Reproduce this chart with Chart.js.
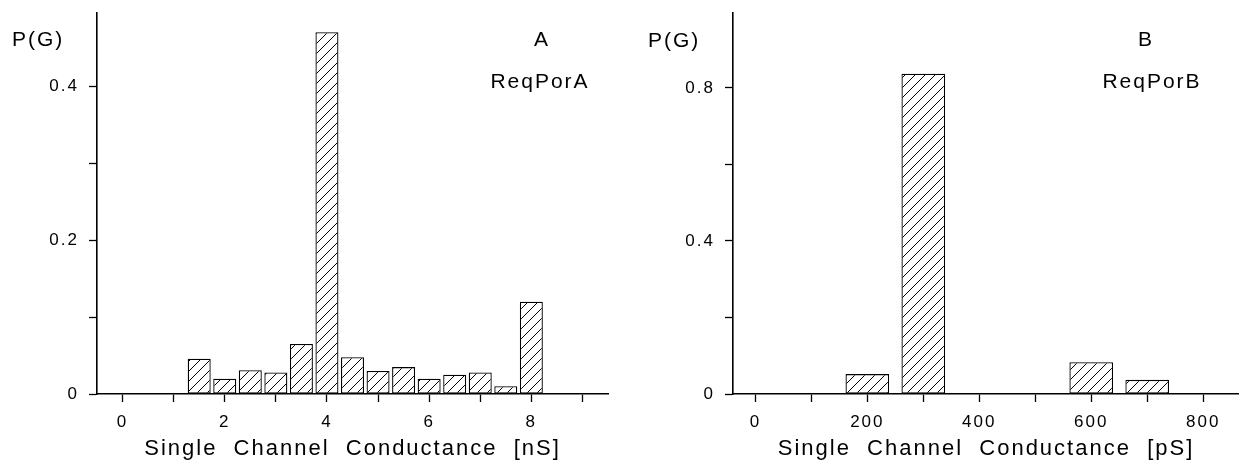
<!DOCTYPE html>
<html>
<head>
<meta charset="utf-8">
<script src="https://cdn.jsdelivr.net/npm/chart.js@4.4.0/dist/chart.umd.min.js"></script>
<style>
    html, body { margin: 0; padding: 0; background: #fff; }
    body { width: 1239px; height: 463px; position: relative; overflow: hidden; }
    .panel { position: absolute; top: 0; height: 463px; }
    #panelA { left: 0; width: 620px; }
    #panelB { left: 620px; width: 619px; }
</style>
</head>
<body>
<div class="panel" id="panelA"><canvas id="chartA"></canvas></div>
<div class="panel" id="panelB"><canvas id="chartB"></canvas></div>
<script>
// panel A - ReqPorA, conductance in nS
const condA = [1.5, 2, 2.5, 3, 3.5, 4, 4.5, 5, 5.5, 6, 6.5, 7, 7.5, 8];
const probA = [0.046, 0.020, 0.031, 0.028, 0.065, 0.471, 0.048, 0.030, 0.035, 0.020, 0.025, 0.028, 0.010, 0.120];
const xTicksA = [0, 1, 2, 3, 4, 5, 6, 7, 8, 9];
const xLabelsA = ["0", "", "2", "", "4", "", "6", "", "8", ""];
const yTicksA = [0, 0.1, 0.2, 0.3, 0.4];
const yLabelsA = ["0", "", "0.2", "", "0.4"];

// panel B - ReqPorB, conductance in pS
const condB = [200, 300, 600, 700];
const probB = [0.052, 0.837, 0.083, 0.037];
const xTicksB = [0, 100, 200, 300, 400, 500, 600, 700, 800];
const xLabelsB = ["0", "", "200", "", "400", "", "600", "", "800"];
const yTicksB = [0, 0.2, 0.4, 0.6, 0.8];
const yLabelsB = ["0", "", "0.4", "", "0.8"];

const yName = "P(G)";
const FONT = "'Liberation Sans', Arial, sans-serif";

function hatch() {
    let c = document.createElement("canvas");
    c.width = 10;
    c.height = 10;
    let g = c.getContext("2d");
    g.fillStyle = "#fff";
    g.fillRect(0, 0, 10, 10);
    g.strokeStyle = "#000";
    g.lineWidth = 1;
    g.beginPath();
    g.moveTo(0, 10); g.lineTo(10, 0);
    g.moveTo(-1, 1); g.lineTo(1, -1);
    g.moveTo(9, 11); g.lineTo(11, 9);
    g.stroke();
    return g.createPattern(c, "repeat");
}

// wider letter spacing, like the lettering of the figure
const spacing = {
    id: "spacing",
    beforeDraw(chart) { chart.ctx.letterSpacing = "2px"; },
    afterDraw(chart) { chart.ctx.letterSpacing = "0px"; }
};

const panelText = {
    id: "panelText",
    afterDraw(chart, args, opts) {
        let ctx = chart.ctx;
        ctx.save();
        ctx.fillStyle = "#000";
        ctx.textBaseline = "middle";
        ctx.letterSpacing = "2px";
        ctx.font = `21px ${FONT}`;
        opts.items.forEach(it => {
            ctx.textAlign = it.align;
            ctx.fillText(it.text, it.x, it.y);
        });
        ctx.restore();
    }
};

function makeChart(id, p) {
    let tickFont = { family: FONT, size: 17 };
    return new Chart(document.getElementById(id), {
        type: "bar",
        data: {
            datasets: [{
                data: p.x.map((x, i) => ({ x: x, y: p.y[i] })),
                backgroundColor: hatch(),
                borderColor: "#000",
                borderWidth: 1.3,
                borderSkipped: false,
                categoryPercentage: 1,
                barPercentage: p.barPct
            }]
        },
        options: {
            responsive: true,
            maintainAspectRatio: false,
            animation: false,
            layout: { padding: { top: 13, right: p.padRight, left: 0, bottom: 0 } },
            plugins: {
                legend: { display: false },
                tooltip: { enabled: false },
                panelText: { items: p.texts }
            },
            scales: {
                x: {
                    type: "linear",
                    min: p.xMin,
                    max: p.xMax,
                    offset: false,
                    afterBuildTicks: s => { s.ticks = p.xTicks.map(v => ({ value: v })); },
                    afterFit: s => { s.height = 69; s.paddingLeft = 0; s.paddingRight = 0; },
                    grid: { offset: false, drawOnChartArea: false, tickLength: 8, tickColor: "#000", tickWidth: 1.3 },
                    border: { display: true, color: "#000", width: 1.6, z: 1 },
                    ticks: {
                        autoSkip: false, maxRotation: 0, padding: 10, color: "#000", font: tickFont,
                        callback: v => p.xLabels[p.xTicks.indexOf(v)]
                    },
                    title: {
                        display: true, text: p.title, color: "#000",
                        font: { family: FONT, size: 22 }, padding: { top: 0, bottom: 1 }
                    }
                },
                y: {
                    min: 0,
                    max: p.yMax,
                    afterBuildTicks: s => { s.ticks = p.yTicks.map(v => ({ value: v })); },
                    afterFit: s => { s.width = p.yWidth; s.paddingTop = 0; s.paddingBottom = 0; },
                    grid: { drawOnChartArea: false, tickLength: 8, tickColor: "#000", tickWidth: 1.3 },
                    border: { display: true, color: "#000", width: 1.6 },
                    ticks: {
                        padding: 10, color: "#000", font: tickFont,
                        callback: v => p.yLabels[p.yTicks.indexOf(v)]
                    }
                }
            }
        },
        plugins: [spacing, panelText]
    });
}

onload = () => {
    makeChart("chartA", {
        x: condA, y: probA, barPct: 0.9,
        xMin: -0.5, xMax: 9.5, xTicks: xTicksA, xLabels: xLabelsA,
        yMax: 0.496, yTicks: yTicksA, yLabels: yLabelsA,
        yWidth: 97, padRight: 12,
        title: "Single  Channel  Conductance  [nS]",
        texts: [
            { text: yName, x: 12, y: 40, align: "left" },
            { text: "A", x: 542, y: 40, align: "center" },
            { text: "ReqPorA", x: 540, y: 82, align: "center" }
        ]
    });
    makeChart("chartB", {
        x: condB, y: probB, barPct: 0.78,
        xMin: -40, xMax: 864, xTicks: xTicksB, xLabels: xLabelsB,
        yMax: 0.996, yTicks: yTicksB, yLabels: yLabelsB,
        yWidth: 113, padRight: 0,
        title: "Single  Channel  Conductance  [pS]",
        texts: [
            { text: yName, x: 28, y: 41, align: "left" },
            { text: "B", x: 526, y: 40, align: "center" },
            { text: "ReqPorB", x: 532, y: 82, align: "center" }
        ]
    });
};
</script>
</body>
</html>
